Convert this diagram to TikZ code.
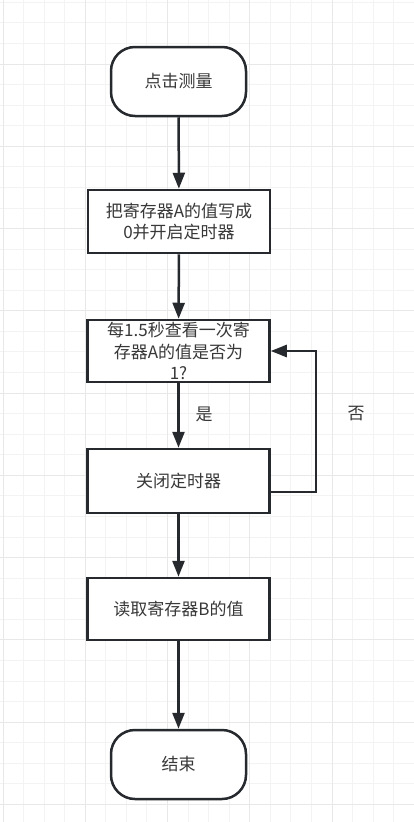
\documentclass[tikz,border=0pt]{standalone}
\usepackage{fontspec}
\setmainfont{Noto Sans CJK SC}
\usepackage{xcolor}
\usetikzlibrary{arrows.meta, positioning, calc}
\definecolor{flowline}{RGB}{38,42,46}
\definecolor{flowtext}{RGB}{56,56,56}
\definecolor{gridminor}{RGB}{243,243,243}
\definecolor{gridmajor}{RGB}{232,232,232}
\tikzset{
  termbox/.style={draw=flowline, line width=2.5pt, fill=white, rounded corners=24pt,
    minimum width=135pt, minimum height=69pt, inner sep=0pt, text=flowtext},
  procbox/.style={draw=flowline, line width=2.5pt, fill=white, align=center,
    minimum width=182pt, minimum height=63pt, inner sep=0pt, text=flowtext},
  flowarrow/.style={flowline, line width=2.5pt, -{Triangle[length=16pt, width=12pt]}},
  branchlabel/.style={text=flowtext, inner sep=0pt},
}

\begin{document}
\begin{tikzpicture}[x=1pt, y=-1pt, every node/.style={font=\fontsize{17pt}{21.5pt}\selectfont}]
  \useasboundingbox (0,0) rectangle (414,822);
  \fill[white] (0,0) rectangle (414,822);
  % Grid
  \foreach \gi in {0,...,20}
    \draw[gridminor, line width=1pt] (3+20.57*\gi,0) -- (3+20.57*\gi,822);
  \foreach \gi in {0,...,40}
    \draw[gridminor, line width=1pt] (0,2.3+20.57*\gi) -- (414,2.3+20.57*\gi);
  \foreach \gi in {0,...,5}
    \draw[gridmajor, line width=1pt] (3+82.28*\gi,0) -- (3+82.28*\gi,822);
  \foreach \gi in {0,...,9}
    \draw[gridmajor, line width=1pt] (0,64+82.28*\gi) -- (414,64+82.28*\gi);
  % Flow nodes
  \node[termbox] (start) at (178.5,81.5) {点击测量};
  \node[procbox] (setzero) at (179,221.5) {把寄存器A的值写成\\0并开启定时器};
  \node[procbox, minimum height=62pt] (check) at (178.5,351) {每1.5秒查看一次寄\\存器A的值是否为\\1?};
  \node[procbox, minimum height=64pt] (stoptimer) at (178.5,481) {关闭定时器};
  \node[procbox, minimum height=62pt] (readb) at (178.5,609) {读取寄存器B的值};
  \node[termbox] (finish) at (178.5,764.5) {结束};
  % Connectors
  \draw[flowarrow] (start) -- (setzero);
  \draw[flowarrow] (setzero) -- (check);
  \draw[flowarrow] (check) -- (stoptimer);
  \draw[flowarrow] (stoptimer) -- (readb);
  \draw[flowarrow] (readb) -- (finish);
  \draw[flowarrow] ([yshift=-11pt]stoptimer.east) -- ++(45,0) |- (check.east);
  % Branch labels
  \node[branchlabel] (yeslabel) at (204,414) {是};
  \node[branchlabel] (nolabel) at (356,414) {否};
\end{tikzpicture}
\end{document}
